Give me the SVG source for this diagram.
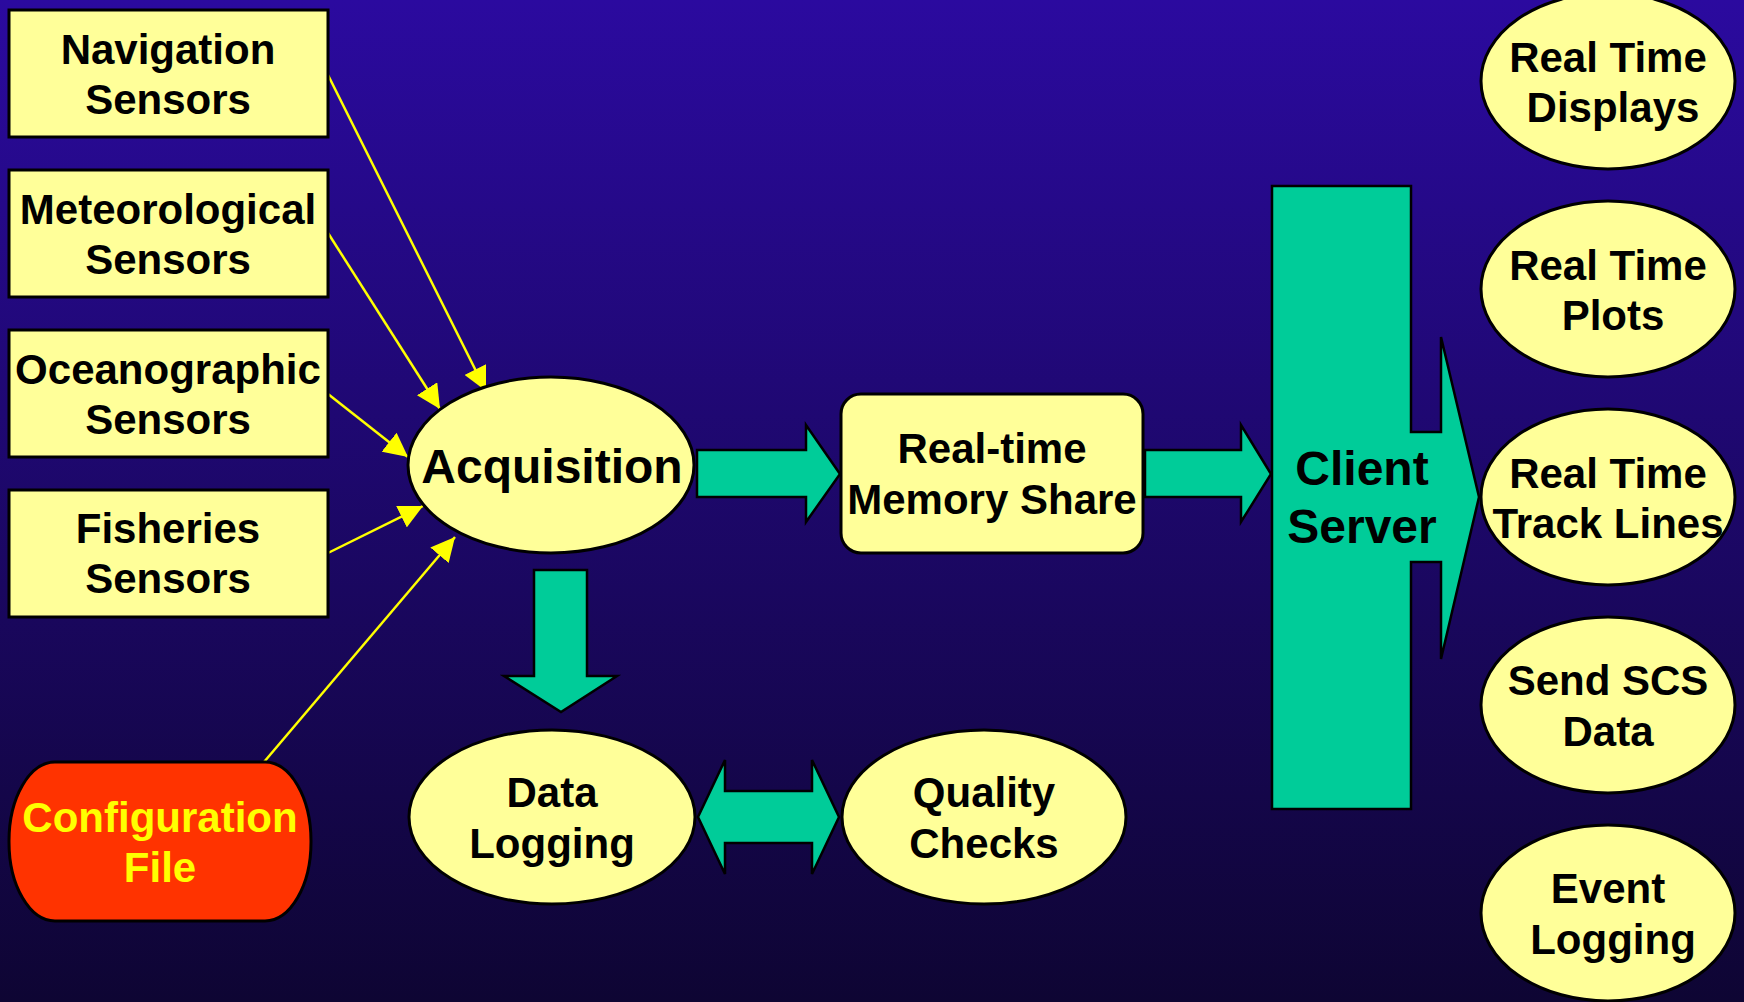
<svg xmlns="http://www.w3.org/2000/svg" width="1744" height="1002" viewBox="0 0 1744 1002">
<defs>
<linearGradient id="bg" x1="0" y1="0" x2="0" y2="1">
<stop offset="0" stop-color="#2B0A9F"/>
<stop offset="1" stop-color="#0E0533"/>
</linearGradient>
<marker id="ya" markerUnits="userSpaceOnUse" markerWidth="24" markerHeight="24" refX="22" refY="11" orient="auto" viewBox="0 0 22 22">
<path d="M0,0 L22,11 L0,22 Z" fill="#FFFF00"/>
</marker>
<style>
.box{fill:#FFFF99;stroke:#000;stroke-width:3}
.grn{fill:#00CC99;stroke:#000;stroke-width:2.5;stroke-linejoin:miter}
.yl{stroke:#FFFF00;stroke-width:2.5;fill:none;marker-end:url(#ya)}
text{font-family:"Liberation Sans",Arial,sans-serif;font-weight:bold;text-anchor:middle;fill:#000}
.t42{font-size:42px}
.t48{font-size:48px}
.cfg{fill:#FFFF00}
</style>
</defs>
<rect x="0" y="0" width="1744" height="1002" fill="url(#bg)"/>

<g id="connectors">
<line class="yl" x1="328" y1="75" x2="486" y2="391"/>
<line class="yl" x1="328" y1="233" x2="440" y2="409"/>
<line class="yl" x1="328" y1="394" x2="408" y2="457"/>
<line class="yl" x1="328" y1="553" x2="423" y2="506"/>
<line class="yl" x1="264" y1="762" x2="455" y2="537"/>
<polygon class="grn" points="697,450 806,450 806,425 840,474 806,522 806,497 697,497"/>
<polygon class="grn" points="1145,450 1241,450 1241,425 1271,474 1241,522 1241,497 1145,497"/>
<polygon class="grn" points="534,570 587,570 587,676 617,676 561,712 504,676 534,676"/>
<polygon class="grn" points="698,817 725,760 725,791 812,791 812,760 839,817 812,874 812,843 725,843 725,874"/>
</g>

<g id="navigation">
<rect class="box" x="9" y="10" width="319" height="127"/>
<text class="t42" x="168" y="64">Navigation</text>
<text class="t42" x="168" y="114">Sensors</text>
</g>
<g id="meteorological">
<rect class="box" x="9" y="170" width="319" height="127"/>
<text class="t42" x="168" y="224">Meteorological</text>
<text class="t42" x="168" y="274">Sensors</text>
</g>
<g id="oceanographic">
<rect class="box" x="9" y="330" width="319" height="127"/>
<text class="t42" x="168" y="384">Oceanographic</text>
<text class="t42" x="168" y="434">Sensors</text>
</g>
<g id="fisheries">
<rect class="box" x="9" y="490" width="319" height="127"/>
<text class="t42" x="168" y="543">Fisheries</text>
<text class="t42" x="168" y="593">Sensors</text>
</g>

<g id="config">
<rect x="9" y="762" width="302" height="159" rx="46" ry="79" fill="#FF3300" stroke="#000" stroke-width="3"/>
<text class="t42 cfg" x="160" y="832">Configuration</text>
<text class="t42 cfg" x="160" y="882">File</text>
</g>

<g id="acquisition">
<ellipse class="box" cx="551" cy="465" rx="143" ry="88"/>
<text class="t48" x="552" y="483">Acquisition</text>
</g>

<g id="memory">
<rect class="box" x="841" y="394" width="302" height="159" rx="20" ry="20"/>
<text class="t42" x="992" y="463">Real-time</text>
<text class="t42" x="992" y="514">Memory Share</text>
</g>

<g id="client-server">
<polygon class="grn" points="1272,186 1411,186 1411,432 1441,432 1441,337 1479,497 1441,659 1441,562 1411,562 1411,809 1272,809"/>
<text class="t48" x="1362" y="485">Client</text>
<text class="t48" x="1362" y="543">Server</text>
</g>

<g id="data-logging">
<ellipse class="box" cx="552" cy="817" rx="143" ry="87"/>
<text class="t42" x="552" y="807">Data</text>
<text class="t42" x="552" y="858">Logging</text>
</g>

<g id="quality-checks">
<ellipse class="box" cx="984" cy="817" rx="142" ry="87"/>
<text class="t42" x="984" y="807">Quality</text>
<text class="t42" x="984" y="858">Checks</text>
</g>

<g id="rt-displays">
<ellipse class="box" cx="1608" cy="81" rx="127" ry="88"/>
<text class="t42" x="1608" y="72">Real Time</text>
<text class="t42" x="1613" y="122">Displays</text>
</g>
<g id="rt-plots">
<ellipse class="box" cx="1608" cy="289" rx="127" ry="88"/>
<text class="t42" x="1608" y="280">Real Time</text>
<text class="t42" x="1613" y="330">Plots</text>
</g>
<g id="rt-tracklines">
<ellipse class="box" cx="1608" cy="497" rx="127" ry="88"/>
<text class="t42" x="1608" y="488">Real Time</text>
<text class="t42" x="1608" y="538">Track Lines</text>
</g>
<g id="send-scs">
<ellipse class="box" cx="1608" cy="705" rx="127" ry="88"/>
<text class="t42" x="1608" y="695">Send SCS</text>
<text class="t42" x="1608" y="746">Data</text>
</g>
<g id="event-logging">
<ellipse class="box" cx="1608" cy="913" rx="127" ry="88"/>
<text class="t42" x="1608" y="903">Event</text>
<text class="t42" x="1613" y="954">Logging</text>
</g>
</svg>
